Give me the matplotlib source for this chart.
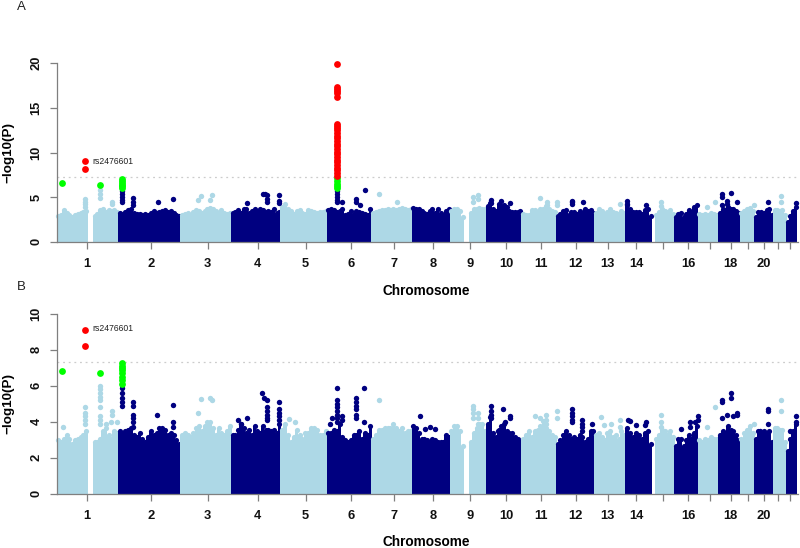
#!/usr/bin/env python3
"""Manhattan plots for two GWAS panels, values read off the published figure."""

import matplotlib
matplotlib.use("Agg")
import matplotlib.pyplot as plt
import numpy as np

plt.rcParams["font.family"] = ["Liberation Sans", "DejaVu Sans"]

LIGHT = "#ADD8E6"
NAVY = "#000080"
RED = "#FF0000"
GREEN = "#00FF00"
AXIS_GRAY = "#7f7f7f"

# Chromosome boundaries along the genome axis
CHROM_EDGES = [56.7, 118.3, 180.7, 231.3, 280.7, 327, 371.7, 412, 450, 486.3, 521.7,
               556.3, 594.7, 625.7, 652, 674.3, 698, 718.7, 740, 754.3, 773.3, 786.3, 797]
TICK_POS = [87.3, 151, 207.7, 257.7, 305.7, 351, 394, 433, 470, 506, 541,
            575.7, 607.7, 636.3, 663, 688, 710, 730.7, 748.3, 763.7, 777.7, 790.3]
TICK_LABELS = ["1", "2", "3", "4", "5", "6", "7", "8", "9", "10", "11",
               "12", "13", "14", "", "16", "", "18", "", "20", "", ""]
THRESHOLD = 7.3

# Top edge of the dense cloud along each chromosome (0 = no SNPs there)
A_TOPS = [
    [3.2, 3.3, 3.8, 3.5, 3.3, 3.0, 3.3, 3.4, 3.5, 3.6, 3.7, 0, 0, 3.2, 3.4, 3.8, 3.9, 3.6, 3.8, 3.7, 3.8, 3.6],
    [3.5, 3.4, 3.6, 3.8, 3.9, 3.5, 3.4, 3.4, 3.3, 3.4, 3.3, 3.5, 3.7, 3.5, 3.6, 3.7, 3.8, 3.6, 3.7, 3.5, 3.3, 3.2],
    [3.3, 3.4, 3.5, 3.3, 3.6, 3.8, 3.7, 3.5, 3.7, 4.0, 4.1, 4.0, 3.7, 3.5, 3.8, 3.5, 3.4, 3.5],
    [3.5, 3.6, 3.8, 3.5, 3.9, 3.9, 3.5, 3.7, 4.0, 3.6, 3.9, 3.8, 3.6, 3.7, 3.6, 3.9, 3.5, 3.6],
    [4.2, 4.5, 3.9, 3.7, 3.4, 3.7, 3.8, 3.5, 3.4, 3.8, 3.7, 3.6, 3.5, 3.6, 3.6, 3.7],
    [3.8, 3.9, 3.8, 3.6, 3.7, 3.9, 3.3, 3.4, 3.7, 3.4, 3.7, 3.6, 3.5, 3.4, 3.3, 3.9],
    [3.5, 3.6, 3.7, 3.8, 3.8, 3.9, 3.8, 3.9, 3.8, 3.9, 4.1, 3.9, 3.8, 3.9],
    [4.1, 4.0, 3.9, 3.7, 3.5, 3.4, 3.7, 3.9, 3.5, 4.0, 3.5, 3.3, 3.7, 4.0],
    [3.7, 3.9, 3.9, 3.7, 3.0, 0, 0, 3.5, 3.9, 4.0, 4.1, 3.9, 3.9],
    [4.3, 4.6, 4.0, 3.7, 4.5, 4.3, 4.4, 4.2, 3.7, 3.6, 3.6, 3.6, 3.7],
    [3.4, 3.3, 3.3, 3.8, 3.8, 3.6, 3.9, 4.0, 4.3, 4.0, 3.7, 3.6],
    [3.2, 3.4, 3.7, 3.8, 3.3, 3.6, 3.6, 3.4, 3.7, 3.5, 3.9, 3.7, 3.8, 3.5],
    [3.5, 3.9, 3.7, 3.4, 3.6, 3.9, 3.6, 3.5, 3.4, 3.7, 3.5],
    [4.4, 3.9, 3.6, 3.6, 3.6, 3.4, 3.8, 4.0, 3.2],
    [0, 3.3, 3.6, 4.0, 3.7, 3.6, 3.8, 3.4],
    [3.0, 3.4, 3.5, 3.1, 3.4, 3.8, 3.6, 4.2, 4.4],
    [3.4, 3.3, 3.4, 3.3, 3.5, 3.4, 3.3],
    [3.5, 4.0, 3.8, 4.2, 3.9, 4.0, 3.7, 3.5],
    [3.5, 3.7, 3.9, 4.1, 3.7],
    [3.0, 3.6, 3.6, 3.5, 3.8, 3.9, 3.3],
    [3.8, 3.8, 3.7, 3.8, 3.3],
    [2.5, 3.2, 3.7, 4.2],
]
B_TOPS = [
    [3.1, 3.0, 3.2, 3.4, 3.2, 2.9, 3.1, 3.2, 3.3, 3.4, 3.6, 0, 0, 3.0, 3.0, 3.2, 3.6, 3.8, 3.4, 3.2, 3.6, 3.5],
    [3.6, 3.5, 3.6, 3.7, 3.8, 3.4, 3.3, 3.5, 3.2, 3.0, 3.3, 3.6, 3.4, 3.5, 3.8, 3.8, 3.7, 3.4, 3.5, 3.4, 3.1, 2.9],
    [3.4, 3.5, 3.4, 3.3, 3.5, 3.8, 3.9, 3.6, 3.9, 4.1, 4.1, 3.8, 3.4, 3.8, 3.5, 3.4, 3.6, 3.9],
    [3.4, 3.4, 3.7, 4.0, 3.8, 3.5, 3.7, 3.4, 3.9, 3.6, 3.5, 3.9, 3.7, 3.7, 3.6, 3.7, 3.5, 4.0],
    [3.7, 4.0, 3.4, 3.0, 3.3, 3.7, 3.4, 3.2, 3.5, 3.5, 3.8, 3.8, 3.7, 3.4, 3.4, 3.6],
    [3.5, 3.5, 3.7, 3.6, 4.0, 3.3, 3.1, 3.0, 3.1, 3.4, 3.4, 3.6, 3.2, 3.5, 3.4, 3.9],
    [3.2, 3.4, 3.7, 3.7, 3.8, 3.8, 3.8, 4.0, 3.8, 3.6, 3.8, 3.5, 3.6, 3.6],
    [3.9, 3.8, 3.5, 3.2, 3.2, 3.1, 3.0, 3.2, 3.1, 3.0, 3.0, 3.0, 3.4, 3.3],
    [3.6, 3.9, 3.9, 3.6, 2.8, 0, 0, 3.0, 3.5, 3.8, 4.0, 4.0, 3.6],
    [4.0, 4.4, 3.5, 3.3, 3.7, 3.9, 4.0, 3.6, 3.5, 3.5, 3.3, 3.2, 3.0],
    [3.2, 3.4, 3.6, 3.3, 3.6, 3.7, 3.9, 4.2, 3.8, 3.6, 3.4, 3.3],
    [2.9, 3.1, 3.4, 3.6, 3.4, 3.2, 3.3, 3.2, 3.4, 3.3, 3.0, 3.2, 3.6, 3.6],
    [3.4, 3.5, 3.3, 3.1, 3.5, 3.6, 3.3, 3.4, 3.2, 3.6, 3.4],
    [3.8, 3.5, 3.3, 3.5, 3.4, 3.2, 3.5, 3.6, 2.9],
    [0, 3.2, 3.4, 3.7, 3.6, 3.4, 3.6, 3.3],
    [2.8, 3.2, 3.2, 2.8, 3.1, 3.4, 3.2, 3.5, 3.9],
    [3.1, 3.0, 3.2, 3.1, 3.3, 3.2, 3.2],
    [3.4, 3.6, 3.5, 3.9, 3.7, 3.6, 3.4, 3.1],
    [3.2, 3.5, 3.7, 3.9, 3.5],
    [3.2, 3.6, 3.5, 3.6, 3.5, 3.6, 3.0],
    [3.8, 3.8, 3.7, 3.7, 3.0],
    [2.5, 3.2, 3.6, 4.0],
]

# Points standing clear of the cloud: position -> values
A_LIGHT = {85: [4.8, 4.5, 4.2, 3.9], 100: [5.8, 5.3, 4.9], 111.5: [4.5, 4.2], 197.7: [4.7], 201: [5.1],
           209.7: [4.7], 211.5: [5.2], 379.3: [5.3], 397: [4.5], 472.7: [5.0, 4.5], 477.7: [5.2, 4.8],
           540: [4.9], 547: [4.5, 4.1], 556.7: [4.5, 4.1], 620: [4.2], 661: [4.4, 4.0], 706.7: [3.9],
           715: [4.5], 753.7: [4.1], 780.7: [5.1, 4.5]}
A_NAVY = {121.5: [5.7, 5.3, 5.0, 4.7, 4.4], 133.3: [4.9, 4.5, 4.1], 157.7: [4.4], 172.7: [4.8],
          246.7: [4.3], 263: [5.3], 265: [5.3], 267: [5.2], 266.5: [4.8, 4.4], 279.3: [5.2, 4.6, 4.3],
          337.3: [5.7, 5.3, 5.0, 4.7, 4.4], 342: [4.5], 364.7: [5.8], 356: [4.8, 4.5], 360: [4.1],
          491: [4.7, 4.3], 501: [4.6], 510: [4.3], 572: [4.6, 4.4, 4.2], 582.7: [4.4], 627.3: [4.6, 4.2],
          646: [4.1], 721.7: [5.3, 5.0, 4.1], 727: [4.6, 4.2], 730.7: [5.5], 737: [4.4], 768.3: [4.4], 796: [4.3]}
A_GREEN = {62.3: [6.6], 100: [6.4], 121.5: [7.0, 6.8, 6.6, 6.4, 6.2, 6.0], 337.3: [7.1, 6.8, 6.5, 6.2, 6.0]}
A_RED = {85: [9.0, 8.2],
         337.3: [19.9, 17.3, 17.1, 16.9, 16.7, 16.2, 13.2, 13.0, 12.8, 12.5, 12.2, 11.9, 11.6, 11.3, 11.0,
                 10.7, 10.4, 10.1, 9.8, 9.5, 9.2, 8.9, 8.6, 8.3, 8.0, 7.7, 7.4]}

B_LIGHT = {63.5: [3.7], 85: [4.8, 4.5, 4.3, 4.1, 3.9], 100: [6.0, 5.8, 5.6, 5.4, 5.2, 4.8, 4.3, 4.1, 3.9],
           106: [3.9], 110.7: [4.0], 111.7: [4.6, 4.4], 117: [4.0], 197.7: [4.5], 201: [5.25], 210: [5.3],
           212: [5.2], 289: [4.15], 295: [4.0], 379.3: [5.2], 472.7: [4.9, 4.7, 4.5, 4.2],
           477.7: [4.5, 4.2, 3.9], 481: [3.8], 535.3: [4.3], 540: [4.2], 546.3: [4.4, 4.1, 3.9],
           556.7: [4.6, 4.2], 600.7: [4.25], 604: [3.8], 611: [3.9], 620: [4.1, 3.7], 661: [4.4, 4.0, 3.7],
           706.7: [3.7], 715: [4.8], 753.7: [3.9], 780.7: [5.2, 4.6]}
B_NAVY = {121.5: [5.9, 5.6, 5.3, 5.1, 4.9], 133.3: [5.1, 4.9, 4.4, 4.2, 4.0, 3.7], 157.3: [4.35],
          172.7: [4.95, 4.0, 3.7], 261.7: [5.6], 263.7: [5.3], 267: [5.2], 266.7: [4.8, 4.6, 4.4, 4.2, 4.1],
          279.3: [5.1, 4.7, 4.5, 4.3, 4.1], 238: [4.1], 247: [4.2], 241: [3.9],
          337.3: [5.9, 5.2, 5.0, 4.8, 4.6, 4.4, 4.2, 4.0], 332: [4.2], 330: [3.9], 342: [4.3, 4.1],
          356: [5.3, 5.1, 4.9, 4.7, 4.4, 4.2], 364.3: [5.9], 364: [4.0], 419.7: [4.3], 425: [3.6], 430: [3.7],
          435: [3.6], 491.3: [4.9, 4.6, 4.4, 4.2], 502.7: [4.7], 510: [4.3, 4.2], 505: [4.0], 498: [3.5],
          572: [4.7, 4.5, 4.3, 4.1, 4.0], 582: [4.1, 3.9, 3.7, 3.5], 592: [3.9], 628: [4.1], 630: [4.05],
          635.7: [3.8], 646: [4.0], 645: [3.8], 680.7: [3.6], 690: [4.0, 3.7], 695: [4.0], 698: [4.3, 4.1],
          721.7: [5.2, 5.1, 4.2], 730.7: [5.6, 5.3], 727: [4.4], 733: [4.3], 737: [4.5, 4.4],
          768.3: [4.7, 4.6, 3.9], 760: [3.5], 796.3: [4.3, 4.0], 790: [3.5]}
B_GREEN = {62.3: [6.8], 100: [6.7], 121.5: [7.25, 7.1, 7.0, 6.9, 6.7, 6.5, 6.3, 6.1]}
B_RED = {85: [9.1, 8.2]}


def scatter_points(ax, points, color, size):
    """Draw a position -> values mapping as round markers."""
    xs = [x for x, ys in points.items() for _ in ys]
    ys = [y for vals in points.values() for y in vals]
    ax.scatter(xs, ys, s=size, color=color, linewidths=0, clip_on=False, zorder=4)


def plot_panel(ax, tops, light, navy, green, red, ymax, yticks, marker_radius):
    ax.hlines(THRESHOLD, CHROM_EDGES[0], 800, color="#cccccc", lw=0.9, linestyles=(0, (1.5, 3)), zorder=1,
              clip_on=False)

    for i, vals in enumerate(tops):
        color = LIGHT if i % 2 == 0 else NAVY
        lo, hi = CHROM_EDGES[i], CHROM_EDGES[i + 1]
        step = (hi - lo) / len(vals)
        xs = lo + step * (np.arange(len(vals)) + 0.5)
        # the lists hold the top edge of the cloud, the markers sit a radius lower
        heights = np.clip(np.array(vals) - marker_radius, 0, None)
        ax.bar(xs, heights, width=step + 0.5, color=color, linewidth=0, zorder=2)
        keep = heights > 0
        ax.scatter(xs[keep], heights[keep], s=14, color=color, linewidths=0, clip_on=False, zorder=2)

    scatter_points(ax, light, LIGHT, 15)
    scatter_points(ax, navy, NAVY, 15)
    scatter_points(ax, green, GREEN, 24)
    scatter_points(ax, red, RED, 24)

    ax.set_xlim(CHROM_EDGES[0], 798)
    ax.set_ylim(0, ymax)
    ax.set_xticks(TICK_POS)
    ax.set_xticklabels(TICK_LABELS, fontsize=9.3, fontweight="bold", color="#111111")
    ax.set_yticks(yticks)
    ax.set_yticklabels([str(t) for t in yticks], fontsize=9.3, fontweight="bold", rotation=90, va="center",
                       color="#111111")
    ax.tick_params(axis="both", length=4.8, width=0.9, color=AXIS_GRAY)
    ax.tick_params(axis="x", pad=7)
    ax.tick_params(axis="y", pad=5.5)
    ax.spines["top"].set_visible(False)
    ax.spines["right"].set_visible(False)
    ax.spines["left"].set_color(AXIS_GRAY)
    ax.spines["bottom"].set_color(AXIS_GRAY)
    ax.spines["left"].set_linewidth(0.9)
    ax.spines["bottom"].set_linewidth(0.9)
    ax.set_axisbelow(False)


def main():
    width, height = 800, 548
    fig = plt.figure(figsize=(width / 100, height / 100), dpi=100)

    def add_axes(top_px, bottom_px):
        return fig.add_axes([56.7 / width, 1 - bottom_px / height, (798 - 56.7) / width,
                             (bottom_px - top_px) / height])

    def put_text(x, y, s, **kw):
        fig.text(x / width, 1 - y / height, s, ha="center", va="center", **kw)

    ax_a = add_axes(63.3, 241.7)
    plot_panel(ax_a, A_TOPS, A_LIGHT, A_NAVY, A_GREEN, A_RED, 20, [0, 5, 10, 15, 20], 0.28)
    ax_b = add_axes(313.7, 493.7)
    plot_panel(ax_b, B_TOPS, B_LIGHT, B_NAVY, B_GREEN, B_RED, 10, [0, 2, 4, 6, 8, 10], 0.14)

    ax_a.text(92, 9.0, "rs2476601", fontsize=6.2, va="center", color="#222222", zorder=5)
    ax_b.text(92, 9.15, "rs2476601", fontsize=6.2, va="center", color="#222222", zorder=5)

    put_text(21, 7.5, "A", fontsize=9.5, color="#222222")
    put_text(21, 287, "B", fontsize=9.5, color="#222222")
    put_text(426, 290.7, "Chromosome", fontsize=9.8, fontweight="bold")
    put_text(426, 541.7, "Chromosome", fontsize=9.8, fontweight="bold")
    put_text(8.5, 152.5, "\u2212log10(P)", fontsize=9.7, fontweight="bold", rotation=90)
    put_text(8.5, 403.5, "\u2212log10(P)", fontsize=9.7, fontweight="bold", rotation=90)

    fig.savefig("out.png", dpi=100)
    plt.close(fig)


if __name__ == "__main__":
    main()
